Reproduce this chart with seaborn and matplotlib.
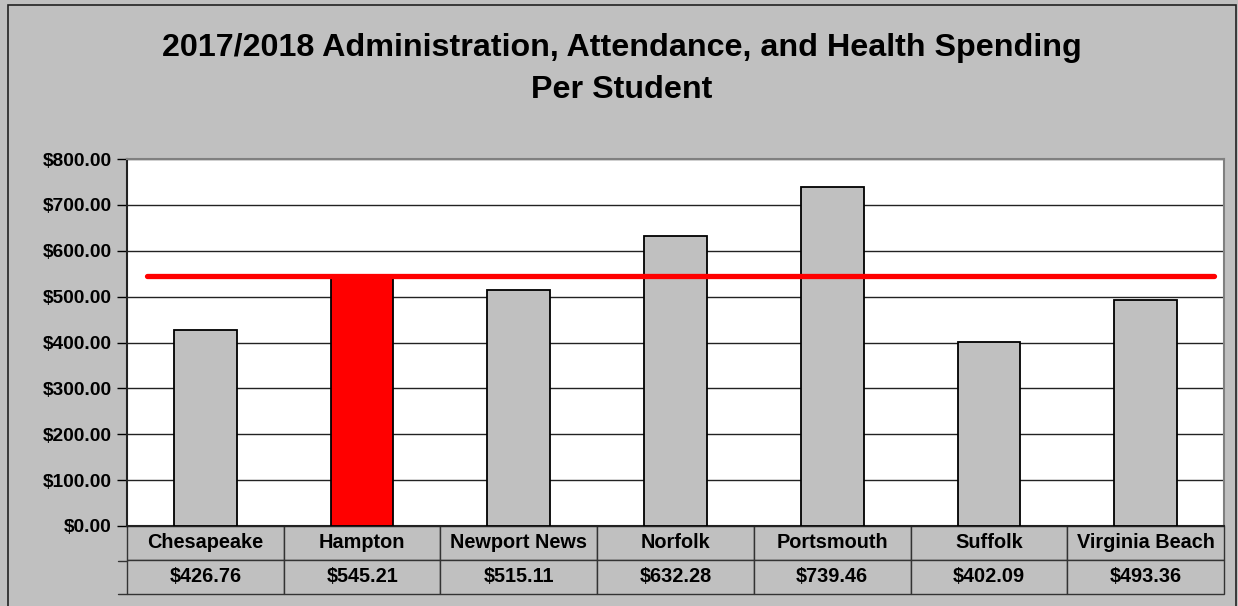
import matplotlib
matplotlib.use("Agg")
import matplotlib.pyplot as plt
import seaborn as sns
import pandas as pd
from matplotlib.patches import Rectangle
from matplotlib.lines import Line2D

categories = ["Chesapeake", "Hampton", "Newport News", "Norfolk", "Portsmouth", "Suffolk", "Virginia Beach"]
values = [426.76, 545.21, 515.11, 632.28, 739.46, 402.09, 493.36]
value_labels = ["$426.76", "$545.21", "$515.11", "$632.28", "$739.46", "$402.09", "$493.36"]
highlight = "Hampton"
reference_value = 545.21
yticks = [0, 100, 200, 300, 400, 500, 600, 700, 800]
ytick_labels = ["$0.00", "$100.00", "$200.00", "$300.00", "$400.00", "$500.00", "$600.00", "$700.00", "$800.00"]
title_line1 = "2017/2018 Administration, Attendance, and Health Spending"
title_line2 = "Per Student"

sns.set_theme(style="white")
plt.rcParams["font.family"] = ["Liberation Sans", "DejaVu Sans"]

GRAY = "#C0C0C0"
W, H = 1238, 606
fig = plt.figure(figsize=(W / 100, H / 100), dpi=100, facecolor=GRAY)

# outer chart border
fig.add_artist(Rectangle((8 / W, -0.05), (1236 - 8) / W, 1.05 - 5 / H,
                         transform=fig.transFigure, facecolor="none",
                         edgecolor="#222222", linewidth=1.2))

left, right, top, bottom = 127, 1224, 159, 526
ax = fig.add_axes([left / W, (H - bottom) / H, (right - left) / W, (bottom - top) / H])
ax.set_facecolor("white")

df = pd.DataFrame({"city": categories, "value": values})
palette = {c: ("#FF0000" if c == highlight else GRAY) for c in categories}
sns.barplot(data=df, x="city", y="value", hue="city", palette=palette, legend=False,
            width=0.4, edgecolor="black", linewidth=1.3, saturation=1, ax=ax, zorder=3)

ax.set_ylim(0, 800)
ax.set_xlim(-0.5, len(categories) - 0.5)
ax.set_yticks(yticks)
ax.set_yticklabels(ytick_labels, fontsize=13.8, fontweight="bold", color="black")
ax.yaxis.grid(True, color="#222222", linewidth=1.0, zorder=0)
ax.set_axisbelow(True)
ax.tick_params(axis="y", direction="out", length=7, width=1, color="black", pad=4, left=True)
ax.tick_params(axis="x", bottom=False, labelbottom=False)
ax.set_xlabel("")
ax.set_ylabel("")
for s in ["top", "right"]:
    ax.spines[s].set_color("#808080")
    ax.spines[s].set_linewidth(1.5)
ax.spines["left"].set_color("#222222")
ax.spines["left"].set_linewidth(1.5)
ax.spines["bottom"].set_color("#222222")
ax.spines["bottom"].set_linewidth(1.5)

ax.axhline(reference_value, xmin=20 / 1097, xmax=1087 / 1097, color="#FF0000", linewidth=3.8, zorder=4)

# data table
plot_h = bottom - top
row_h1 = (561 - bottom) / plot_h
row_h2 = (594 - 561) / plot_h
tbl = ax.table(cellText=[value_labels], colLabels=categories, cellLoc="center",
               bbox=[0, -(row_h1 + row_h2), 1, row_h1 + row_h2])
tbl.auto_set_font_size(False)
tbl.set_fontsize(14.3)
for (r, c), cell in tbl.get_celld().items():
    cell.set_facecolor(GRAY)
    cell.set_edgecolor("#333333")
    cell.set_linewidth(1.0)
    cell.get_text().set_fontweight("bold")
    cell.get_text().set_color("black")

# small row-line extensions to the left of the table
for yy in [561, 594]:
    fig.add_artist(Line2D([118 / W, left / W], [(H - yy) / H] * 2, color="#333333", linewidth=1.0))

fig.text(0.502, 1 - 48 / H, title_line1,
         ha="center", va="center", fontsize=23.2, fontweight="bold", color="black")
fig.text(0.502, 1 - 90 / H, title_line2,
         ha="center", va="center", fontsize=23.2, fontweight="bold", color="black")

fig.savefig("out.png", dpi=100, facecolor=GRAY)
